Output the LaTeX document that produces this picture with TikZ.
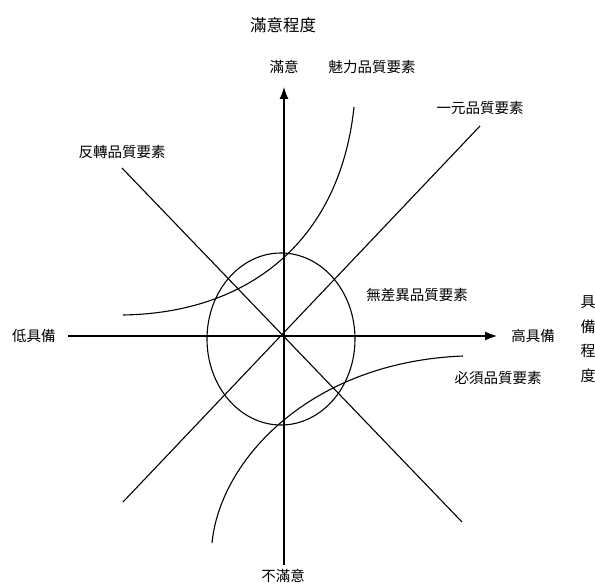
\documentclass[tikz,border=0pt]{standalone}
\usepackage{fontspec}
\usepackage{tikz}
\usetikzlibrary{arrows.meta, shapes.geometric}
\newfontfamily\cjk{Noto Sans CJK TC}
\tikzset{
  axis/.style={line width=1.1pt, -{Latex[length=12pt,width=9pt]}},
  kanoline/.style={line width=1.1pt},
  factor/.style={font=\cjk\fontsize{14.5}{16}\selectfont, inner sep=0pt},
  axistitle/.style={font=\cjk\fontsize{16.5}{24.5}\selectfont, inner sep=0pt, align=center}
}

\begin{document}
\begin{tikzpicture}[x=1pt, y=-1pt]
\useasboundingbox (0,0) rectangle (595,586);

% titles and labels
\node (sattitle) [axistitle] at (283,25)  {滿意程度};
\node (avtitle)  [axistitle, font=\cjk\fontsize{15}{24.5}\selectfont] at (588,339) {具\\備\\程\\度};
\node (sat)      [factor] at (284,67)  {滿意};
\node (unsat)    [factor] at (283,576) {不滿意};
\node (low)      [factor] at (34,336)  {低具備};
\node (high)     [factor] at (533,336) {高具備};
\node (attr)     [factor] at (372,67)  {魅力品質要素};
\node (onedim)   [factor] at (480,108) {一元品質要素};
\node (reverse)  [factor] at (122,152) {反轉品質要素};
\node (indiff)   [factor] at (417,295) {無差異品質要素};
\node (must)     [factor] at (498,378) {必須品質要素};

% axes
\coordinate (xstart) at (68,336);
\coordinate (xend)   at (497,336);
\coordinate (ystart) at (284,565);
\coordinate (yend)   at (284,87);
\draw[axis] (xstart) -- (xend);
\draw[axis] (ystart) -- (yend);

% indifferent zone
\node (zone) [draw, ellipse, line width=1.1pt, minimum width=148pt, minimum height=172pt, inner sep=0pt] at (281,339) {};

% one-dimensional and reverse lines
\coordinate (od1) at (123,502);
\coordinate (od2) at (480,126);
\coordinate (rv1) at (122,168);
\coordinate (rv2) at (462,522);
\draw[kanoline] (od1) -- (od2);
\draw[kanoline] (rv1) -- (rv2);

% attractive and must-be curves
\coordinate (at1) at (123,315);
\coordinate (at2) at (354,107);
\coordinate (mb1) at (212,543);
\coordinate (mb2) at (463,356);
\draw[kanoline] (at1) .. controls (250,313) and (340,240) .. (at2);
\draw[kanoline] (mb1) .. controls (220,460) and (310,362) .. (mb2);
\end{tikzpicture}
\end{document}
